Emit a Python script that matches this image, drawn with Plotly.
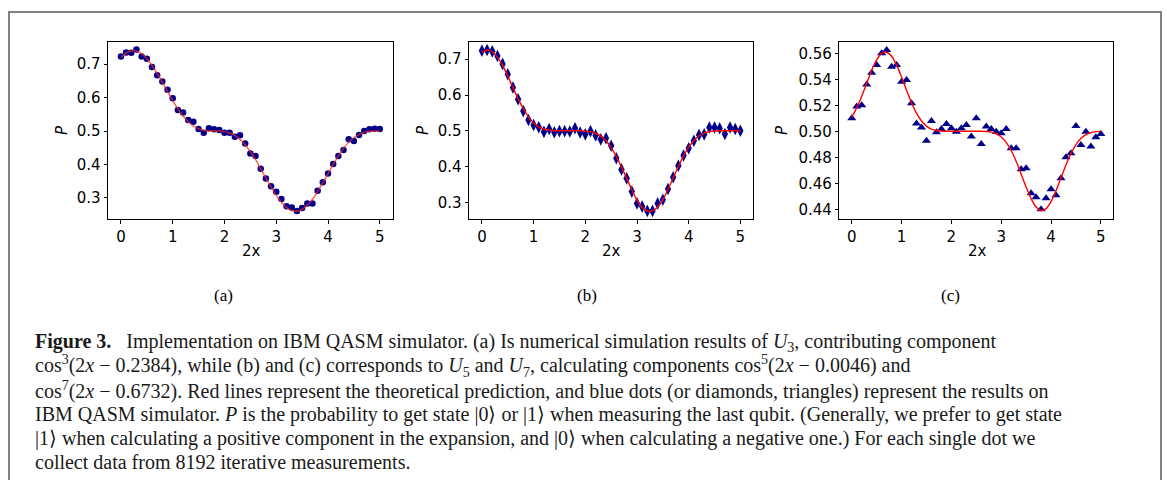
import plotly.graph_objects as go

W, H = 1167, 480

x_vals = [round(i * 0.1, 1) for i in range(51)]

# Panel (a): simulator dots and theoretical curve
p_a_dots = [0.723, 0.735, 0.734, 0.744, 0.723, 0.716, 0.691, 0.667, 0.648, 0.623,
            0.598, 0.563, 0.555, 0.533, 0.528, 0.506, 0.495, 0.508, 0.505, 0.503,
            0.495, 0.495, 0.483, 0.487, 0.463, 0.433, 0.425, 0.387, 0.358, 0.335,
            0.318, 0.297, 0.275, 0.271, 0.261, 0.270, 0.283, 0.283, 0.321, 0.347,
            0.373, 0.401, 0.425, 0.443, 0.475, 0.470, 0.488, 0.500, 0.505, 0.507,
            0.506]
p_a_theory = [0.720, 0.733, 0.739, 0.739, 0.731, 0.716, 0.696, 0.672, 0.646, 0.618,
              0.591, 0.566, 0.545, 0.528, 0.515, 0.507, 0.502, 0.500, 0.500, 0.500,
              0.498, 0.494, 0.487, 0.475, 0.459, 0.438, 0.415, 0.387, 0.360, 0.333,
              0.308, 0.287, 0.271, 0.262, 0.260, 0.266, 0.278, 0.296, 0.319, 0.345,
              0.372, 0.400, 0.425, 0.448, 0.466, 0.480, 0.490, 0.496, 0.499, 0.500,
              0.500]

# Panel (b)
p_b_dots = [0.724, 0.726, 0.722, 0.709, 0.687, 0.658, 0.621, 0.588, 0.555, 0.530,
            0.516, 0.510, 0.497, 0.505, 0.496, 0.499, 0.499, 0.498, 0.507, 0.495,
            0.490, 0.499, 0.487, 0.476, 0.479, 0.458, 0.423, 0.392, 0.367, 0.330,
            0.297, 0.288, 0.276, 0.276, 0.297, 0.307, 0.337, 0.370, 0.402, 0.431,
            0.451, 0.472, 0.488, 0.490, 0.509, 0.509, 0.507, 0.491, 0.509, 0.505,
            0.500]
p_b_theory = [0.719, 0.726, 0.721, 0.706, 0.683, 0.653, 0.621, 0.590, 0.562, 0.539,
              0.522, 0.511, 0.505, 0.502, 0.500, 0.500, 0.500, 0.500, 0.500, 0.500,
              0.499, 0.497, 0.493, 0.485, 0.472, 0.453, 0.428, 0.399, 0.367, 0.335,
              0.306, 0.286, 0.275, 0.276, 0.287, 0.307, 0.336, 0.368, 0.400, 0.429,
              0.454, 0.472, 0.486, 0.493, 0.498, 0.499, 0.500, 0.500, 0.500, 0.500,
              0.500]

# Panel (c)
p_c_dots = [0.5100, 0.5190, 0.5200, 0.5360, 0.5450, 0.5510, 0.5600, 0.5626, 0.5497, 0.5510,
            0.5380, 0.5395, 0.5215, 0.5060, 0.5030, 0.4928, 0.5080, 0.4992, 0.5018, 0.5056,
            0.5023, 0.4997, 0.5023, 0.5049, 0.4959, 0.5100, 0.4903, 0.5036, 0.5018, 0.4997,
            0.4985, 0.5018, 0.4869, 0.4869, 0.4708, 0.4715, 0.4523, 0.4492, 0.4400, 0.4485,
            0.4554, 0.4508, 0.4638, 0.4800, 0.4831, 0.5041, 0.4895, 0.4997, 0.4882, 0.4954,
            0.4979]
p_c_theory = [0.5109, 0.5180, 0.5270, 0.5370, 0.5468, 0.5549, 0.5599, 0.5608, 0.5577, 0.5509,
              0.5417, 0.5316, 0.5220, 0.5139, 0.5079, 0.5040, 0.5017, 0.5006, 0.5002, 0.5000,
              0.5000, 0.5000, 0.5000, 0.5000, 0.5000, 0.5000, 0.5000, 0.4998, 0.4993, 0.4981,
              0.4956, 0.4915, 0.4852, 0.4769, 0.4672, 0.4571, 0.4482, 0.4418, 0.4390, 0.4405,
              0.4459, 0.4543, 0.4642, 0.4741, 0.4829, 0.4898, 0.4946, 0.4975, 0.4990, 0.4997,
              0.4999]

xticks = [0, 1, 2, 3, 4, 5]
yticks_ab = [0.3, 0.4, 0.5, 0.6, 0.7]
yticks_c = [0.44, 0.46, 0.48, 0.50, 0.52, 0.54, 0.56]
panel_labels = ["(a)", "(b)", "(c)"]
caption_lines = [
    "<b>Figure 3.</b>\u2002 Implementation on IBM QASM simulator. (a) Is numerical simulation results of <i>U</i><sub>3</sub>, contributing component",
    "cos<sup>3</sup>(2<i>x</i> − 0.2384), while (b) and (c) corresponds to <i>U</i><sub>5</sub> and <i>U</i><sub>7</sub>, calculating components cos<sup>5</sup>(2<i>x</i> − 0.0046) and",
    "cos<sup>7</sup>(2<i>x</i> − 0.6732). Red lines represent the theoretical prediction, and blue dots (or diamonds, triangles) represent the results on",
    "IBM QASM simulator. <i>P</i> is the probability to get state |0⟩ or |1⟩ when measuring the last qubit. (Generally, we prefer to get state",
    "|1⟩ when calculating a positive component in the expansion, and |0⟩ when calculating a negative one.) For each single dot we",
    "collect data from 8192 iterative measurements.",
]

NAVY = "#00008b"
TICKFONT = dict(family="DejaVu Sans", size=15, color="black")

def px_x(p):
    return p / W

def px_y(p):
    return 1 - p / H

fig = go.Figure()

panels = [
    dict(dots=p_a_dots, theory=p_a_theory, symbol="circle", msize=6.5,
         line_color="rgba(255,40,20,0.75)", xd=(108, 392.7), yr=(0.236, 0.767),
         yticks=yticks_ab, fmt=".1f", xlab=251, plab=62, lab=223),
    dict(dots=p_b_dots, theory=p_b_theory, symbol="diamond-tall", msize=9,
         line_color="red", xd=(469, 753.3), yr=(0.2525, 0.749),
         yticks=yticks_ab, fmt=".1f", xlab=611, plab=423, lab=587),
    dict(dots=p_c_dots, theory=p_c_theory, symbol="triangle-up", msize=8,
         line_color="red", xd=(839.3, 1113.3), yr=(0.4323, 0.5689),
         yticks=yticks_c, fmt=".2f", xlab=977, plab=782, lab=951),
]

annotations = []
for i, p in enumerate(panels):
    xa = "x" if i == 0 else f"x{i+1}"
    ya = "y" if i == 0 else f"y{i+1}"
    fig.add_trace(go.Scatter(x=x_vals, y=p["dots"], mode="markers", xaxis=xa, yaxis=ya,
                             marker=dict(symbol=p["symbol"], size=p["msize"], color=NAVY,
                                         line=dict(width=0)),
                             showlegend=False, hoverinfo="skip"))
    fig.add_trace(go.Scatter(x=x_vals, y=p["theory"], mode="lines", xaxis=xa, yaxis=ya,
                             line=dict(color=p["line_color"], width=1.4, shape="spline", smoothing=0.8),
                             showlegend=False, hoverinfo="skip"))
    xkey = "xaxis" if i == 0 else f"xaxis{i+1}"
    ykey = "yaxis" if i == 0 else f"yaxis{i+1}"
    fig.update_layout(**{
        xkey: dict(domain=[px_x(p["xd"][0]), px_x(p["xd"][1])], range=[-0.25, 5.25],
                   anchor=ya, tickvals=xticks, ticks="outside", ticklen=3.5, tickwidth=0.8,
                   tickcolor="black", showline=True, mirror=True, linecolor="black",
                   linewidth=1, showgrid=False, zeroline=False, tickfont=TICKFONT),
        ykey: dict(domain=[px_y(219.3), px_y(41.7)], range=list(p["yr"]),
                   anchor=xa, tickvals=p["yticks"], tickformat=p["fmt"], ticks="outside",
                   ticklen=3.5, tickwidth=0.8, tickcolor="black", showline=True, mirror=True,
                   linecolor="black", linewidth=1, showgrid=False, zeroline=False,
                   tickfont=TICKFONT),
    })
    annotations.append(dict(x=px_x(p["xlab"]), y=px_y(251), xref="paper", yref="paper",
                            text="2x", showarrow=False, xanchor="center", yanchor="middle",
                            font=dict(family="DejaVu Sans", size=15, color="black")))
    annotations.append(dict(x=px_x(p["plab"]), y=px_y(130), xref="paper", yref="paper",
                            text="<i>P</i>", showarrow=False, textangle=-90,
                            xanchor="center", yanchor="middle",
                            font=dict(family="DejaVu Sans", size=15, color="black")))
    annotations.append(dict(x=px_x(p["lab"]), y=px_y(295), xref="paper", yref="paper",
                            text=panel_labels[i], showarrow=False, xanchor="center",
                            yanchor="middle",
                            font=dict(family="Liberation Serif", size=17, color="black")))

for k, line in enumerate(caption_lines):
    annotations.append(dict(x=px_x(33), y=px_y(342 + 24 * k), xref="paper", yref="paper",
                            text=line, showarrow=False, xanchor="left", yanchor="middle",
                            align="left",
                            font=dict(family="Liberation Serif", size=20, color="#1a1a1a")))

fig.update_layout(
    width=W, height=H, margin=dict(l=0, r=0, t=0, b=0),
    paper_bgcolor="white", plot_bgcolor="white",
    annotations=annotations,
    shapes=[dict(type="rect", xref="paper", yref="paper",
                 x0=px_x(9), x1=px_x(1161), y0=px_y(490), y1=px_y(12),
                 line=dict(color="#808080", width=2), fillcolor="rgba(0,0,0,0)")],
)

fig.write_html("out.html")
